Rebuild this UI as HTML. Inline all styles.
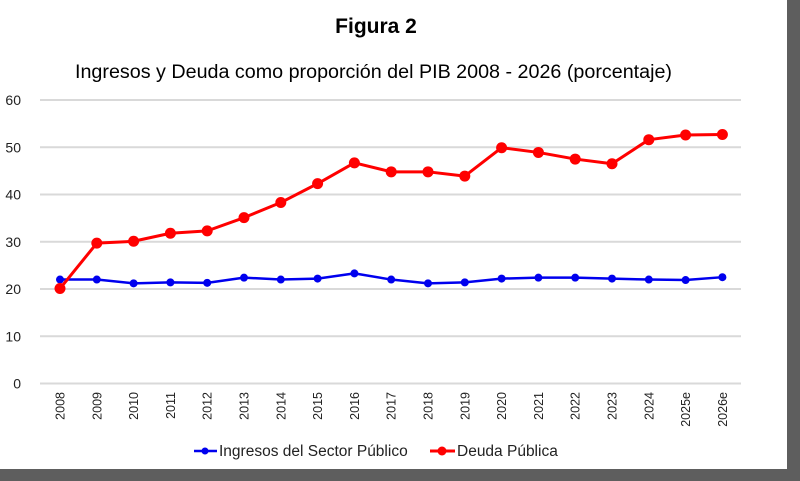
<!DOCTYPE html>
<html><head><meta charset="utf-8"><style>
html,body{margin:0;padding:0;width:800px;height:481px;overflow:hidden;background:#5a5a5a;}
svg{display:block}
</style></head><body>
<svg id="s" width="800" height="481" xmlns="http://www.w3.org/2000/svg" font-family="Liberation Sans, sans-serif">
<rect x="0" y="0" width="800" height="481" fill="#5e5e5e"/>
<rect x="0" y="0" width="787" height="469" fill="#fff"/>
<text x="376" y="33" font-size="21" font-weight="bold" text-anchor="middle" fill="#000">Figura 2</text>
<text x="373.5" y="78" font-size="19.3" text-anchor="middle" fill="#000" textLength="597" lengthAdjust="spacingAndGlyphs">Ingresos y Deuda como proporción del PIB 2008 - 2026 (porcentaje)</text>
<g id="grid" stroke="#d9d9d9" stroke-width="2"></g>
<g id="ylab" font-size="14" fill="#222" text-anchor="end"></g>
<g id="xlab" font-size="12.5" fill="#222"></g>
<g id="series"></g>
<g font-size="15.5" fill="#222">
<line x1="194" y1="451" x2="217" y2="451" stroke="#0000ee" stroke-width="2.5"/><circle cx="205" cy="451" r="3.5" fill="#0000ee"/>
<text x="219" y="456">Ingresos del Sector Público</text>
<line x1="430" y1="451" x2="455" y2="451" stroke="#ff0000" stroke-width="3"/><circle cx="442" cy="451" r="4.5" fill="#ff0000"/>
<text x="457" y="456">Deuda Pública</text>
</g>
</svg>
<script>
var NS="http://www.w3.org/2000/svg";
function el(p,t,a,txt){var e=document.createElementNS(NS,t);for(var k in a)e.setAttribute(k,a[k]);if(txt!=null)e.textContent=txt;document.getElementById(p).appendChild(e);return e;}
function Y(v){return 383.5-v*4.725;}
for(var v=0;v<=60;v+=10){el("grid","line",{x1:40,x2:741,y1:Y(v),y2:Y(v)});el("ylab","text",{x:21,y:Y(v)+5},String(v));}
var yrs=["2008","2009","2010","2011","2012","2013","2014","2015","2016","2017","2018","2019","2020","2021","2022","2023","2024","2025e","2026e"];
function X(i){return 60+36.8*i;}
yrs.forEach(function(y,i){el("xlab","text",{x:0,y:0,transform:"translate("+(X(i)+4.5)+",392) rotate(-90)","text-anchor":"end"},y);});
var red=[20.1,29.7,30.1,31.8,32.3,35.1,38.3,42.3,46.7,44.8,44.8,43.9,49.9,48.9,47.5,46.5,51.6,52.6,52.7];
var blue=[22.0,22.0,21.2,21.4,21.3,22.4,22.0,22.2,23.3,22.0,21.2,21.4,22.2,22.4,22.4,22.2,22.0,21.9,22.5];
function draw(d,c,w,r){var pts=d.map(function(v,i){return X(i)+","+Y(v);}).join(" ");el("series","polyline",{points:pts,fill:"none",stroke:c,"stroke-width":w,"stroke-linejoin":"round"});d.forEach(function(v,i){el("series","circle",{cx:X(i),cy:Y(v),r:r,fill:c});});}
draw(blue,"#0000ee",2.5,4);
draw(red,"#ff0000",3,5.5);
</script>
</body></html>
